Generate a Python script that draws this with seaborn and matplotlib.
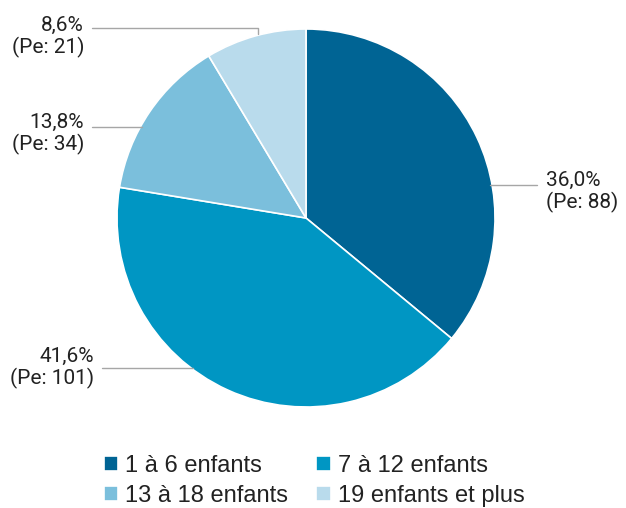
import matplotlib
matplotlib.use("Agg")
import matplotlib.pyplot as plt
import seaborn as sns
import numpy as np

# data
categories = ["1 à 6 enfants", "7 à 12 enfants", "13 à 18 enfants", "19 enfants et plus"]
shares = [36.0, 41.6, 13.8, 8.6]
counts = [88, 101, 34, 21]
colors = ["#006494", "#0096c3", "#7bbfdc", "#b9dbec"]

sns.set_theme(style="white")
plt.rcParams["font.family"] = ["Roboto", "DejaVu Sans"]

fig = plt.figure(figsize=(6.26, 5.08), dpi=100)
ax = fig.add_axes([0, 0, 1, 1])
ax.axis("off")

cx, cy, r = 306, 290, 189
wedges, _ = ax.pie(shares, colors=sns.color_palette(colors), startangle=90,
                   counterclock=False, center=(cx, cy), radius=r,
                   wedgeprops=dict(edgecolor="white", linewidth=1.2))
ax.set_xlim(0, 626)
ax.set_ylim(0, 508)
ax.set_aspect("equal")

# label layout: (line y, line start x, text x, text dy, align)
layout = [
    (323, 537, 546, -7, "left"),
    (140, 102, 94, 0, "right"),
    (381, 92, 84, -7, "right"),
    (480, 92, 84, -9, "right"),
]
line_col = "#a6a6a6"
for i, (ly, lx, tx, tdy, ha) in enumerate(layout):
    dy = ly - cy
    ex = np.sqrt(max(r**2 - dy**2, 0))
    edge_x = cx + ex if ha == "left" else cx - ex
    txt = f"{shares[i]:.1f}%".replace(".", ",") + f"\n(Pe: {counts[i]})"
    if i == 3:
        # elbow line for the small top slice
        ax.plot([lx, 258, 258], [ly, ly, ly - 6], color=line_col, lw=1)
    else:
        ax.plot([lx, edge_x + (-2 if ha == "left" else 2)], [ly, ly], color=line_col, lw=1)
    ax.text(tx, ly + tdy, txt, ha=ha, va="center", fontsize=15, color="#222222",
            linespacing=1.15, multialignment=ha)

# row-wise legend order
order = [0, 2, 1, 3]
leg = ax.legend([wedges[k] for k in order], [categories[k] for k in order], ncol=2,
                loc="upper left", bbox_to_anchor=(92 / 626, 1 - 443 / 508), frameon=False,
                prop={"family": ["Liberation Sans", "DejaVu Sans"], "size": 17},
                handlelength=0.6, handleheight=0.6, handletextpad=0.3,
                columnspacing=1.2, labelspacing=0.35, labelcolor="#222222",
                borderpad=0)

fig.savefig("out.png", dpi=100)
